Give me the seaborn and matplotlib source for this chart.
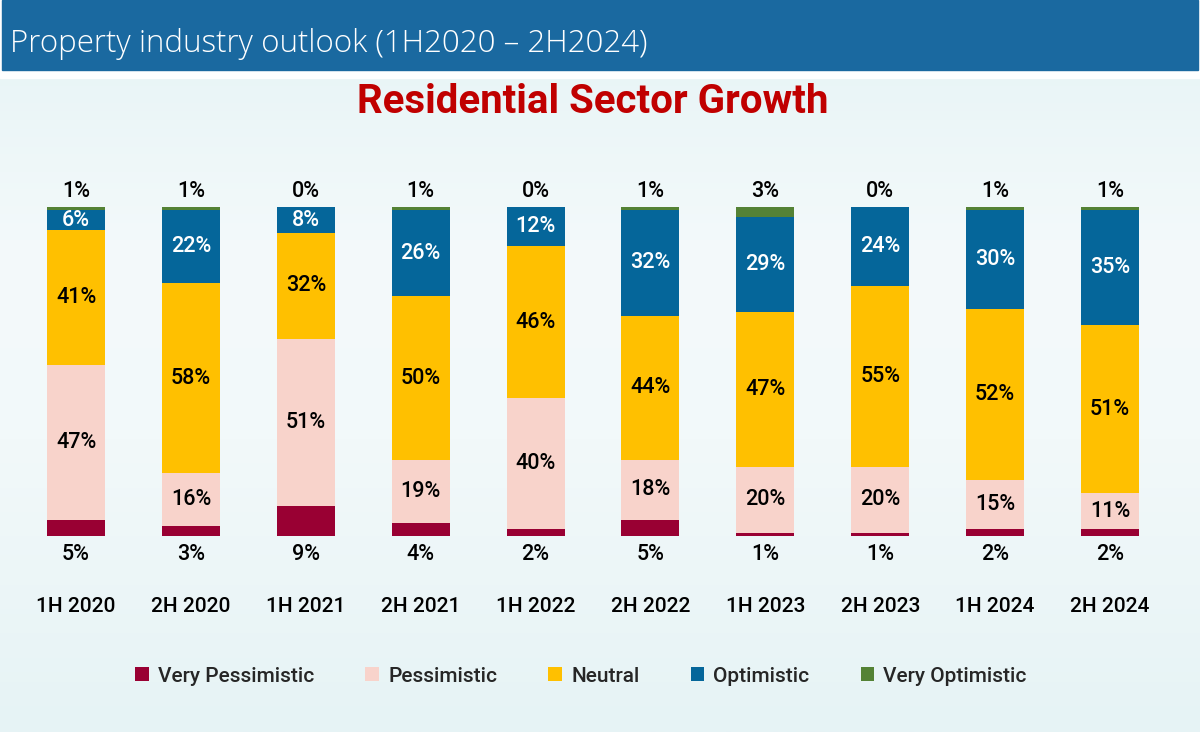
import numpy as np
import pandas as pd
import matplotlib
matplotlib.use("Agg")
import matplotlib.pyplot as plt
from matplotlib.patches import Rectangle, Patch
from matplotlib.colors import LinearSegmentedColormap
import seaborn as sns

# ---- data ----
periods = ["1H 2020", "2H 2020", "1H 2021", "2H 2021", "1H 2022",
           "2H 2022", "1H 2023", "2H 2023", "1H 2024", "2H 2024"]
very_pessimistic = [5, 3, 9, 4, 2, 5, 1, 1, 2, 2]
pessimistic = [47, 16, 51, 19, 40, 18, 20, 20, 15, 11]
neutral = [41, 58, 32, 50, 46, 44, 47, 55, 52, 51]
optimistic = [6, 22, 8, 26, 12, 32, 29, 24, 30, 35]
very_optimistic = [1, 1, 0, 1, 0, 1, 3, 0, 1, 1]

series_names = ["Very Pessimistic", "Pessimistic", "Neutral", "Optimistic", "Very Optimistic"]
series_values = [very_pessimistic, pessimistic, neutral, optimistic, very_optimistic]
colors = ["#990033", "#f8d3cb", "#ffc000", "#05669a", "#548235"]
label_colors = ["black", "black", "black", "white", "black"]

main_title = "Residential Sector Growth"
header_title = "Property industry outlook (1H2020 \u2013 2H2024)"

sns.set_theme(style="white")
plt.rcParams["font.family"] = ["Roboto", "DejaVu Sans"]

W, H = 1200, 732
fig = plt.figure(figsize=(W / 100, H / 100), dpi=100)

# ---- background gradient ----
bg = fig.add_axes([0, 0, 1, 1], zorder=-5)
bg.set_axis_off()
cmap = LinearSegmentedColormap.from_list(
    "bg", [(0.0, "#e5f3f5"), (0.35, "#f4fafb"), (0.6, "#f2f9fa"), (1.0, "#e6f3f5")])
grad = np.linspace(0, 1, 256).reshape(-1, 1)
bg.imshow(grad, aspect="auto", cmap=cmap, extent=[0, 1, 0, 1], origin="upper")
bg.set_xlim(0, 1)
bg.set_ylim(0, 1)
# white gap + header band
bg.add_patch(Rectangle((0, 1 - 78 / H), 1, 78 / H, color="white", zorder=2))
bg.add_patch(Rectangle((2 / W, 1 - 70 / H), 1 - 4 / W, 70 / H, color="#1a69a0", zorder=3))
fig.text(10 / W, 1 - 44 / H, header_title, color="white", fontsize=22.5,
         ha="left", va="center", family=["Open Sans", "DejaVu Sans"], fontweight="light")
fig.text(593 / W, 1 - 102 / H, main_title, color="#c00000", fontsize=29,
         ha="center", va="center", fontweight="bold")

# ---- bars ----
left_px, right_px = 18.6, 1167.4
top_px, bot_px = 207, 536
ax = fig.add_axes([left_px / W, 1 - bot_px / H, (right_px - left_px) / W, (bot_px - top_px) / H])

rows = []
for i, p in enumerate(periods):
    cum = 0
    for name, vals in zip(series_names, series_values):
        rows.append({"period": p, "series": name, "value": vals[i], "bottom": cum})
        cum += vals[i]
df = pd.DataFrame(rows)
df["top"] = df["bottom"] + df["value"]

# draw from top layer down so lower layers overlay
for name, col in reversed(list(zip(series_names, colors))):
    sub = df[df["series"] == name]
    sns.barplot(data=sub, x="period", y="top", color=col, width=0.505,
                order=periods, ax=ax, saturation=1, linewidth=0, errorbar=None)

ax.set_xlim(-0.5, len(periods) - 0.5)
ax.set_ylim(0, 100)
ax.set_axis_off()

# ---- labels ----
lab_kw = dict(ha="center", va="center", fontsize=15.5, fontweight="medium", clip_on=False)
for i, p in enumerate(periods):
    sub = df[df["period"] == p]
    for j, (name, lc) in enumerate(zip(series_names, label_colors)):
        r = sub[sub["series"] == name].iloc[0]
        v = r["value"]
        if name == "Very Optimistic":
            ax.text(i, 104.8, f"{v}%", color="black", **lab_kw)
        elif name == "Very Pessimistic":
            ax.text(i, -5.6, f"{v}%", color="black", **lab_kw)
        else:
            ax.text(i, r["bottom"] + v / 2, f"{v}%", color=lc, **lab_kw)
    ax.text(i, -21.5, p, ha="center", va="center", fontsize=15, fontweight="medium",
            color="black", clip_on=False)

# ---- legend ----
handles = [Patch(facecolor=c, edgecolor="none") for c in colors]
fig.legend(handles, series_names, loc="center", bbox_to_anchor=(581 / W, 1 - 676 / H),
           ncol=5, frameon=False, prop={"size": 15, "weight": "medium"},
           handlelength=0.65, handleheight=0.65,
           handletextpad=0.45, columnspacing=2.45)

fig.savefig("out.png", dpi=100)
